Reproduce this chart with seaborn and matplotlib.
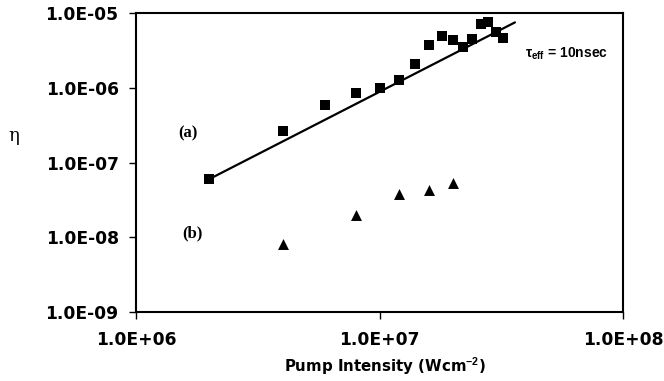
import numpy as np
import pandas as pd
import matplotlib
matplotlib.use("Agg")
import matplotlib.pyplot as plt
import seaborn as sns

# Series (a): squares
a_intensity = [2.0e6, 4.0e6, 6.0e6, 8.0e6, 1.0e7, 1.2e7, 1.4e7, 1.6e7,
               1.8e7, 2.0e7, 2.2e7, 2.4e7, 2.6e7, 2.8e7, 3.0e7, 3.2e7]
a_eta = [6.0e-8, 2.65e-7, 5.8e-7, 8.6e-7, 9.8e-7, 1.28e-6, 2.1e-6, 3.7e-6,
         5.0e-6, 4.35e-6, 3.5e-6, 4.5e-6, 7.2e-6, 7.5e-6, 5.5e-6, 4.6e-6]

# Series (b): triangles
b_intensity = [4.0e6, 8.0e6, 1.2e7, 1.6e7, 2.0e7]
b_eta = [8.1e-9, 2.0e-8, 3.75e-8, 4.3e-8, 5.4e-8]

# Power-law fit for series (a): eta = fit_ref_eta * (I / fit_ref_intensity) ** fit_exponent
fit_exponent = 1.67
fit_ref_intensity = 2.0e6
fit_ref_eta = 6.0e-8
fit_range = [2.0e6, 3.6e7]

x_ticks = [1e6, 1e7, 1e8]
x_ticklabels = ["1.0E+06", "1.0E+07", "1.0E+08"]
y_ticks = [1e-9, 1e-8, 1e-7, 1e-6, 1e-5]
y_ticklabels = ["1.0E-09", "1.0E-08", "1.0E-07", "1.0E-06", "1.0E-05"]

sns.set_theme(style="ticks")
plt.rcParams["font.family"] = ["DejaVu Sans"]
plt.rcParams["mathtext.fontset"] = "custom"
plt.rcParams["mathtext.rm"] = "Liberation Sans"
plt.rcParams["mathtext.bf"] = "Liberation Sans:bold"

fig = plt.figure(figsize=(6.64, 3.81), dpi=100)
ax = fig.add_axes([136 / 664, 1 - 312 / 381, (623 - 136) / 664, (312 - 13) / 381])

ax.set_xscale("log")
ax.set_yscale("log")

fit_x = np.geomspace(fit_range[0], fit_range[1], 50)
fit_df = pd.DataFrame({
    "x": fit_x,
    "y": fit_ref_eta * (fit_x / fit_ref_intensity) ** fit_exponent,
})
sns.lineplot(data=fit_df, x="x", y="y", ax=ax, color="black", linewidth=1.6)

df_a = pd.DataFrame({"x": a_intensity, "y": a_eta})
df_b = pd.DataFrame({"x": b_intensity, "y": b_eta})
sns.scatterplot(data=df_a, x="x", y="y", ax=ax, marker="s", s=56,
                color="black", linewidth=0, zorder=3)
sns.scatterplot(data=df_b, x="x", y="y", ax=ax, marker="^", s=62,
                color="black", linewidth=0, zorder=3)

ax.set_xlim(1e6, 1e8)
ax.set_ylim(1e-9, 1e-5)
ax.set_xticks(x_ticks)
ax.set_xticklabels(x_ticklabels)
ax.set_yticks(y_ticks)
ax.set_yticklabels(y_ticklabels)
ax.minorticks_off()

for spine in ax.spines.values():
    spine.set_visible(True)
    spine.set_linewidth(1.5)
    spine.set_color("black")

ax.tick_params(axis="both", which="major", direction="out", length=5,
               width=1, color="black", labelcolor="black")
ax.tick_params(axis="y", pad=7.5)
ax.tick_params(axis="x", pad=8.5)
for lab in ax.get_xticklabels() + ax.get_yticklabels():
    lab.set_fontsize(12.3)
    lab.set_fontweight("bold")
    lab.set_family("DejaVu Sans")

ax.set_xlabel(r"Pump Intensity (Wcm$^{\mathbf{-2}}$)", fontsize=10.8,
              fontweight="bold", color="black", va="center")
ax.xaxis.set_label_coords((385 - 136) / 487, (312 - 367) / 299)
ax.set_ylabel("η", rotation=0, fontsize=13, family="DejaVu Serif",
              color="black", va="center", ha="center")
ax.yaxis.set_label_coords((14 - 136) / 487, 1 - (136 - 13) / 299)

ax.text(3.96e7, 2.5e-6, r"τ$_{\mathbf{eff}}$ = 10nsec", fontsize=10,
        fontweight="bold", family="Liberation Sans", ha="left", va="baseline",
        color="black")
ax.text(1.635e6, 2.48e-7, "(a)", fontsize=12, fontweight="bold",
        family="Liberation Serif", ha="center", va="center", color="black")
ax.text(1.70e6, 1.14e-8, "(b)", fontsize=12, fontweight="bold",
        family="Liberation Serif", ha="center", va="center", color="black")

fig.savefig("out.png", dpi=100, facecolor="white")
